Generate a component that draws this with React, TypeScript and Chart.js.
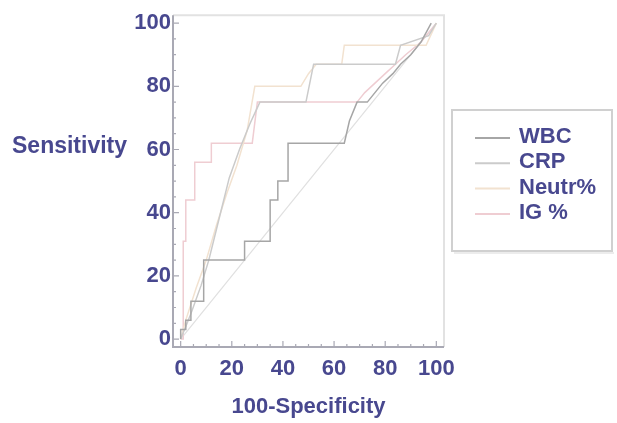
import React, { useEffect, useRef } from 'react';
import { Chart, registerables } from 'chart.js';

Chart.register(...registerables);

// ---- data ----
const seriesNames = ['WBC', 'CRP', 'Neutr%', 'IG %'];
const seriesColors = ['#a6a6a6', '#cbcbcb', '#f2e2d0', '#efcdd2'];

const wbcX = [0, 0, 2, 2, 4, 4, 9, 9, 25, 25, 35, 35, 38, 38, 42, 42, 64, 66, 69, 73, 76, 79, 83, 86, 90, 94, 98];
const wbcY = [0, 3, 3, 6, 6, 12, 12, 25, 25, 31, 31, 44, 44, 50, 50, 62, 62, 69, 75, 75, 78, 81, 84, 87, 90, 94, 100];

const crpX = [0, 4, 8, 11, 15, 19, 23, 27, 31, 49, 52, 84, 86, 97, 100];
const crpY = [0, 8, 17, 25, 38, 51, 60, 68, 75, 75, 87, 87, 93, 96, 100];

const neutrX = [0, 2, 6, 10, 14, 18, 22, 26, 29, 47, 50, 53, 63, 64, 96, 100];
const neutrY = [0, 6, 16, 25, 36, 46, 55, 66, 80, 80, 84, 87, 87, 93, 93, 100];

const igX = [0, 1, 1, 2, 2, 5.5, 5.5, 12, 12, 28, 30, 69, 72, 76, 80, 84, 88, 94, 100];
const igY = [0, 0, 31, 31, 44, 44, 56, 56, 62, 62, 75, 75, 78, 81, 84, 87, 90, 94, 100];

const diagX = [0, 100];
const diagY = [0, 100];

const tickValues = [0, 20, 40, 60, 80, 100];
const xTitle = '100-Specificity';
const yTitle = 'Sensitivity';

const TEXT_COLOR = '#48488f';
const FONT_FAMILY = 'Arial, "Liberation Sans", sans-serif';

const toPoints = (xs: number[], ys: number[]) => xs.map((x, i) => ({ x, y: ys[i] }));

const framePlugin = {
  id: 'frame',
  beforeDatasetsDraw(chart: any) {
    const { ctx, chartArea, scales } = chart;
    const { left, right, top, bottom } = chartArea;
    const xs = scales.x;
    const ys = scales.y;
    ctx.save();
    ctx.strokeStyle = '#e2e2e2';
    ctx.lineWidth = 2;
    ctx.beginPath();
    ctx.moveTo(left, top);
    ctx.lineTo(right, top);
    ctx.lineTo(right, bottom);
    ctx.stroke();

    ctx.strokeStyle = '#a9a9b4';
    ctx.lineWidth = 2;
    ctx.beginPath();
    ctx.moveTo(left, top);
    ctx.lineTo(left, bottom);
    ctx.lineTo(right, bottom);
    ctx.stroke();

    ctx.lineWidth = 1.2;
    ctx.beginPath();
    for (let v = 0; v <= 100; v += 5) {
      const len = v % 20 === 0 ? 6 : 3;
      const px = xs.getPixelForValue(v);
      ctx.moveTo(px, bottom);
      ctx.lineTo(px, bottom - len);
      const py = ys.getPixelForValue(v);
      ctx.moveTo(left, py);
      ctx.lineTo(left + len, py);
    }
    ctx.stroke();
    ctx.restore();
  },
  afterDraw(chart: any) {
    const { ctx } = chart;
    ctx.save();
    // y-axis title, horizontal
    ctx.fillStyle = TEXT_COLOR;
    ctx.font = `bold 23px ${FONT_FAMILY}`;
    ctx.textAlign = 'left';
    ctx.textBaseline = 'alphabetic';
    ctx.fillText(yTitle, 12, 153);

    // legend box
    const bx = 452, by = 110, bw = 160, bh = 141;
    ctx.strokeStyle = '#d0d0d0';
    ctx.lineWidth = 2;
    ctx.strokeRect(bx, by, bw, bh);
    ctx.strokeStyle = '#ececec';
    ctx.lineWidth = 2;
    ctx.beginPath();
    ctx.moveTo(bx + 2, by + bh + 2);
    ctx.lineTo(bx + bw + 2, by + bh + 2);
    ctx.stroke();

    ctx.font = `bold 22px ${FONT_FAMILY}`;
    ctx.textBaseline = 'middle';
    chart.data.datasets.forEach((ds: any, i: number) => {
      if (!ds.label) return;
      const yy = 137 + i * 25.3;
      ctx.strokeStyle = ds.borderColor;
      ctx.lineWidth = 2;
      ctx.beginPath();
      ctx.moveTo(475, yy + 1);
      ctx.lineTo(510, yy + 1);
      ctx.stroke();
      ctx.fillStyle = TEXT_COLOR;
      ctx.fillText(ds.label, 519, yy);
    });
    ctx.restore();
  },
};

export default function App() {
  const ref = useRef<HTMLCanvasElement | null>(null);

  useEffect(() => {
    document.body.style.margin = '0';
    const canvas = ref.current;
    if (!canvas) return;
    const lists = [
      [wbcX, wbcY],
      [crpX, crpY],
      [neutrX, neutrY],
      [igX, igY],
    ];
    const datasets: any[] = lists.map(([xs, ys], i) => ({
      label: seriesNames[i],
      data: toPoints(xs, ys),
      borderColor: seriesColors[i],
      backgroundColor: seriesColors[i],
      borderWidth: 1.5,
      pointRadius: 0,
      tension: 0,
      fill: false,
    }));
    datasets.push({
      label: '',
      data: toPoints(diagX, diagY),
      borderColor: '#e0e0e0',
      borderWidth: 1.2,
      pointRadius: 0,
      tension: 0,
      fill: false,
      order: 10,
    });

    const tickFont = { family: FONT_FAMILY, size: 22, weight: 'bold' as const };
    const chart = new Chart(canvas, {
      type: 'line',
      data: { datasets },
      options: {
        animation: false,
        responsive: false,
        maintainAspectRatio: false,
        parsing: false,
        layout: { padding: { left: 133, right: 173, top: 14, bottom: 0 } },
        plugins: { legend: { display: false }, tooltip: { enabled: false } },
        scales: {
          x: {
            type: 'linear',
            min: -3,
            max: 103,
            afterBuildTicks: (s: any) => {
              s.ticks = tickValues.map((v) => ({ value: v }));
            },
            afterFit: (s: any) => {
              s.height = 76;
            },
            grid: { display: false, drawTicks: false },
            border: { display: false },
            ticks: { font: tickFont, color: TEXT_COLOR, padding: 9, maxRotation: 0, autoSkip: false },
            title: {
              display: true,
              text: xTitle,
              font: { family: FONT_FAMILY, size: 22, weight: 'bold' },
              color: TEXT_COLOR,
              padding: { top: 0, bottom: 3 },
            },
          },
          y: {
            type: 'linear',
            min: -2.5,
            max: 102.5,
            afterBuildTicks: (s: any) => {
              s.ticks = tickValues.map((v) => ({ value: v }));
            },
            afterFit: (s: any) => {
              s.width = 40;
            },
            grid: { display: false, drawTicks: false },
            border: { display: false },
            ticks: { font: tickFont, color: TEXT_COLOR, padding: 2, autoSkip: false },
          },
        },
      } as any,
      plugins: [framePlugin],
    });
    return () => chart.destroy();
  }, []);

  return (
    <div style={{ position: 'fixed', left: 0, top: 0, width: 617, height: 423, background: '#fff' }}>
      <canvas ref={ref} width={617} height={423} style={{ display: 'block' }} />
    </div>
  );
}
